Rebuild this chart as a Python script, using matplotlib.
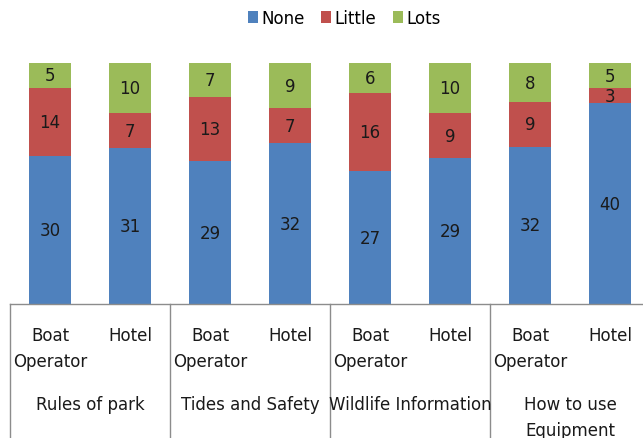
import matplotlib.pyplot as plt
import numpy as np

groups = ["Rules of park", "Tides and Safety", "Wildlife Information", "How to use\nEquipment"]
subgroups = ["Boat\nOperator", "Hotel"]
none_vals = [30, 31, 29, 32, 27, 29, 32, 40]
little_vals = [14, 7, 13, 7, 16, 9, 9, 3]
lots_vals = [5, 10, 7, 9, 6, 10, 8, 5]

series = [("None", none_vals, "#4F81BD"),
          ("Little", little_vals, "#C0504D"),
          ("Lots", lots_vals, "#9BBB59")]

plt.rcParams['font.family'] = ['Liberation Sans Narrow', 'DejaVu Sans']

fig = plt.figure(figsize=(6.43, 4.39), dpi=100)
W, H = 643.0, 439.0
ax = fig.add_axes([10 / W, 134 / H, 640 / W, 241 / H])

totals = np.array(none_vals) + np.array(little_vals) + np.array(lots_vals)
x = np.arange(len(none_vals))
bottom = np.zeros(len(x))
for name, vals, color in series:
    frac = np.array(vals) / totals
    ax.bar(x, frac, width=0.52, bottom=bottom, color=color, label=name)
    for xi, b, f, v in zip(x, bottom, frac, vals):
        ax.text(xi, b + f / 2, str(v), ha='center', va='center', fontsize=12, color='#1a1a1a')
    bottom += frac

ax.set_xlim(-0.5, 7.5)
ax.set_ylim(0, 1)
for s in ax.spines.values():
    s.set_visible(False)
ax.set_xticks([])
ax.set_yticks([])

# baseline and category separators
ax.plot([0, 1], [0, 0], transform=ax.transAxes, color='#8c8c8c', lw=1, clip_on=False)
for g in range(5):
    ax.plot([g / 4, g / 4], [0, -134 / 241], transform=ax.transAxes,
            color='#8c8c8c', lw=1, clip_on=False)

# sub labels and group labels
trans = ax.get_xaxis_transform()
for i in range(len(x)):
    ax.text(x[i], -22 / 241, subgroups[i % 2], transform=trans, ha='center', va='top',
            fontsize=12, linespacing=1.6, color='#1a1a1a')
for g, name in enumerate(groups):
    ax.text(2 * g + 0.5, -91 / 241, name, transform=trans, ha='center', va='top',
            fontsize=12, linespacing=1.6, color='#1a1a1a')

fig.legend(loc='upper center', bbox_to_anchor=(344 / W, 1.012), ncol=3, frameon=False,
           fontsize=12, handlelength=0.6, handleheight=0.7, handletextpad=0.2,
           columnspacing=1.0)

fig.savefig("out.png", dpi=100)
